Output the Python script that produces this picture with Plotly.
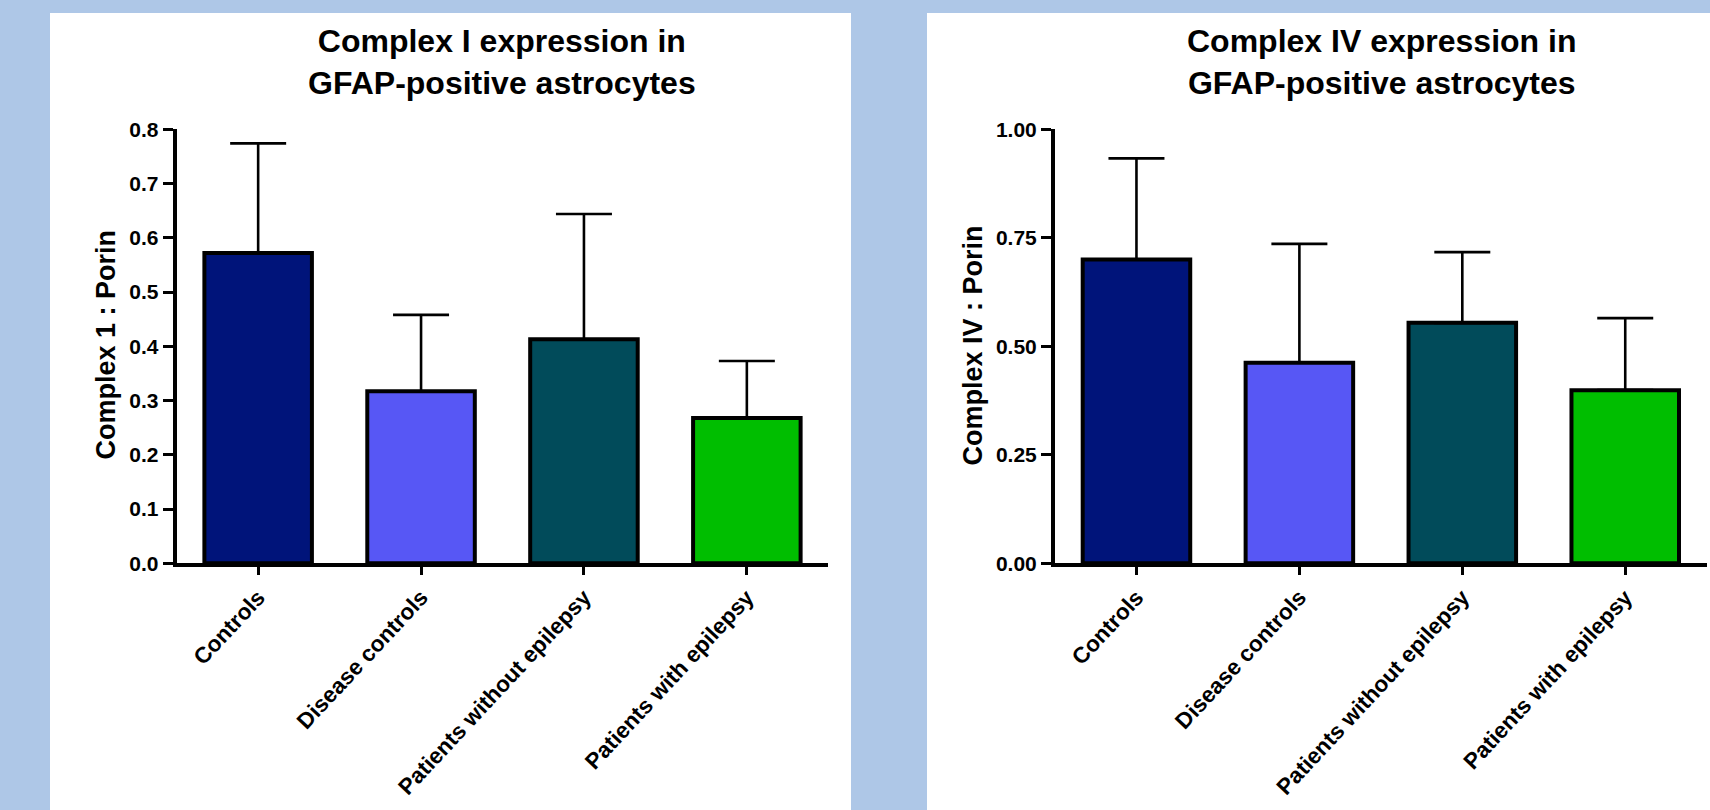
import plotly.graph_objects as go

W, H = 1710, 810

categories = ["Controls", "Disease controls", "Patients without epilepsy", "Patients with epilepsy"]
bar_colors = ["#00147A", "#5757F5", "#014B5A", "#00BE00"]

c1_mean = [0.572, 0.317, 0.413, 0.268]
c1_err = [0.202, 0.141, 0.231, 0.105]

c4_mean = [0.700, 0.462, 0.554, 0.399]
c4_err = [0.233, 0.274, 0.163, 0.166]

c1_ticks = [0.0, 0.1, 0.2, 0.3, 0.4, 0.5, 0.6, 0.7, 0.8]
c4_ticks = [0.0, 0.25, 0.5, 0.75, 1.0]

FONT = "Liberation Sans, Arial, sans-serif"
BG = "#AEC7E7"


def px_x(p):
    return p / W


def px_y(p):
    return 1 - p / H


fig = go.Figure()

for means, errs, xa, ya in [(c1_mean, c1_err, "x", "y"), (c4_mean, c4_err, "x2", "y2")]:
    fig.add_trace(go.Bar(
        x=categories, y=means, xaxis=xa, yaxis=ya,
        width=0.66,
        marker=dict(color=bar_colors, line=dict(color="black", width=4)),
        error_y=dict(type="data", symmetric=False, array=errs, arrayminus=[0] * len(errs),
                     color="black", thickness=2.6, width=28),
        showlegend=False,
    ))

axis_common = dict(
    showline=True, linecolor="black", linewidth=4,
    ticks="outside", tickcolor="black", tickwidth=3,
    showgrid=False, zeroline=False, automargin=False,
)

xdom1 = [px_x(176.7), px_x(828.3)]
xdom2 = [px_x(1055), px_x(1706.7)]
ydom = [px_y(563.3), px_y(129.3)]

xfont = dict(family=FONT, size=22.5, color="black", weight="bold")
yfont = dict(family=FONT, size=21, color="black", weight="bold")

fig.update_layout(
    template="none",
    width=W, height=H,
    autosize=False,
    margin=dict(l=0, r=0, t=0, b=0, pad=0),
    paper_bgcolor=BG,
    plot_bgcolor="rgba(0,0,0,0)",
    xaxis=dict(domain=xdom1, anchor="y", range=[-0.5, 3.5], tickangle=-47, ticklen=8,
               tickfont=xfont, **axis_common),
    yaxis=dict(domain=ydom, anchor="x", range=[0, 0.8], tickvals=c1_ticks, tickformat=".1f",
               ticklen=10, tickfont=yfont, **axis_common),
    xaxis2=dict(domain=xdom2, anchor="y2", range=[-0.5, 3.5], tickangle=-47, ticklen=8,
                tickfont=xfont, **axis_common),
    yaxis2=dict(domain=ydom, anchor="x2", range=[0, 1.0], tickvals=c4_ticks, tickformat=".2f",
                ticklen=10, tickfont=yfont, **axis_common),
    shapes=[
        dict(type="rect", xref="paper", yref="paper", layer="below",
             x0=px_x(50), x1=px_x(851), y0=-0.01, y1=px_y(13),
             fillcolor="white", line=dict(width=0)),
        dict(type="rect", xref="paper", yref="paper", layer="below",
             x0=px_x(927), x1=1.01, y0=-0.01, y1=px_y(13),
             fillcolor="white", line=dict(width=0)),
    ],
)

title_font = dict(family=FONT, size=32, color="black", weight="bold")
ytitle_font = dict(family=FONT, size=27, color="black", weight="bold")

annotations = []
for cx, l1 in [(502, "Complex I expression in"), (1381, "Complex IV expression in")]:
    annotations.append(dict(text=l1 + "<br>GFAP-positive astrocytes", x=px_x(cx), y=px_y(62),
                            xref="paper", yref="paper", xanchor="center", yanchor="middle",
                            showarrow=False, font=title_font))

annotations.append(dict(text="Complex 1 : Porin", x=px_x(105.5), y=px_y(345), xref="paper", yref="paper",
                        xanchor="center", yanchor="middle", showarrow=False, textangle=-90,
                        font=ytitle_font))
annotations.append(dict(text="Complex IV : Porin", x=px_x(972.5), y=px_y(345), xref="paper", yref="paper",
                        xanchor="center", yanchor="middle", showarrow=False, textangle=-90,
                        font=ytitle_font))

fig.update_layout(annotations=annotations)

fig.write_html("out.html", config={"displayModeBar": False},
               post_script="document.body.style.margin='0';document.body.style.overflow='hidden';")
